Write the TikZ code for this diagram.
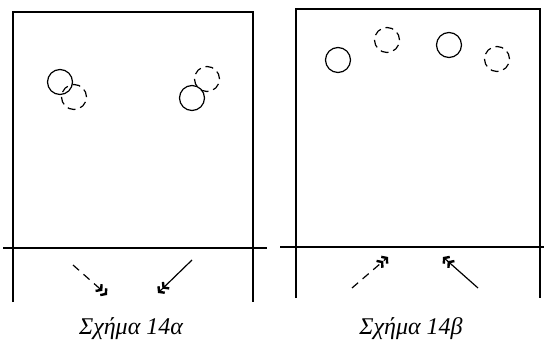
\documentclass[tikz,border=0pt]{standalone}
\usepackage{fontspec}
\setmainfont{Liberation Serif}
\usetikzlibrary{positioning, arrows.meta}
\tikzset{
  ball/.style   ={draw, circle, minimum size=25pt, inner sep=0pt, line width=1.2pt},
  ghost/.style  ={ball, dashed, dash pattern=on 8pt off 5pt},
  wall/.style   ={line width=1.3pt},
  ray/.style    ={line width=1.2pt, -{Straight Barb[length=3.5pt,width=9pt,line width=2.4pt] Straight Barb[length=3.5pt,width=9pt,line width=2.4pt]}},
  rayd/.style   ={ray, dash pattern=on 8pt off 6pt},
  caption/.style={font=\itshape\fontsize{24}{26}\selectfont},
}
\begin{document}
\begin{tikzpicture}[x=1pt, y=-1pt]
  \useasboundingbox (0,0) rectangle (546,345);
  % 14a
  \draw[wall] (13,302) -- (13,12) -- (253,12) -- (253,302);
  \draw[wall] (3,248) -- (267,248);
  \node[ball]  (Sa1) at (60,82)  {};
  \node[ghost] (Ga1) at (74,97)  {};
  \node[ball]  (Sa2) at (192,98) {};
  \node[ghost] (Ga2) at (207,79) {};
  \coordinate (Da0) at (73,265);
  \coordinate (Da1) at (107,295);
  \coordinate (Fa0) at (192,260);
  \coordinate (Fa1) at (158,293);
  \draw[rayd] (Da0) -- (Da1);
  \draw[ray]  (Fa0) -- (Fa1);
  \node[caption] (Ca) at (131,329) {Σχήμα 14α};
  % 14b
  \draw[wall] (296,298) -- (296,9) -- (540,9) -- (540,298);
  \draw[wall] (280,247) -- (544,247);
  \node[ball]  (Sb1) at (338,60) {};
  \node[ghost] (Gb1) at (387,40) {};
  \node[ball]  (Sb2) at (449,45) {};
  \node[ghost] (Gb2) at (497,59) {};
  \coordinate (Db0) at (352,288);
  \coordinate (Db1) at (388,257);
  \coordinate (Fb0) at (478,288);
  \coordinate (Fb1) at (443,257);
  \draw[rayd] (Db0) -- (Db1);
  \draw[ray]  (Fb0) -- (Fb1);
  \node[caption] (Cb) at (411,329) {Σχήμα 14β};
\end{tikzpicture}
\end{document}
